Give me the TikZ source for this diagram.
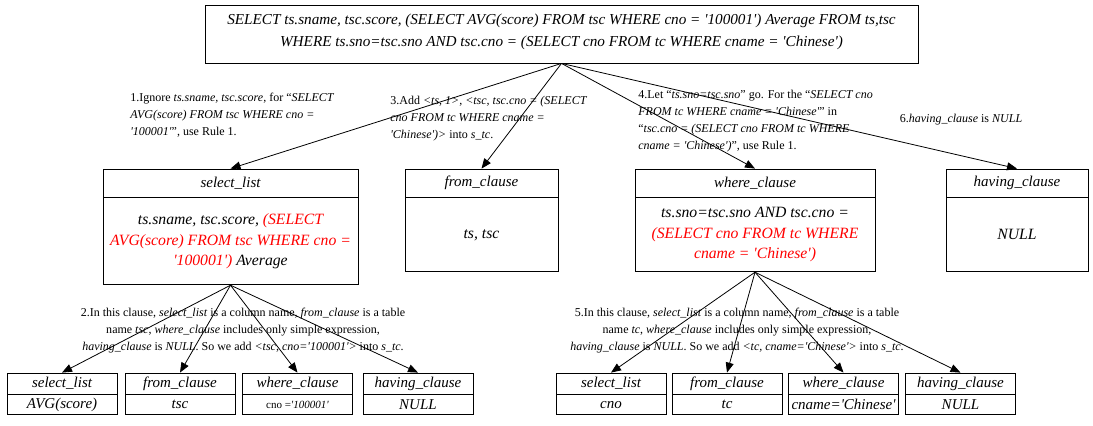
\documentclass[tikz,border=0pt]{standalone}
\usepackage{fontspec}
\setmainfont{Liberation Serif}[Ligatures=TeXOff]
\usetikzlibrary{positioning, arrows.meta}
\tikzset{
    ->, % every edge is directed
    >={Triangle[length=10bp,width=8bp]}, % graphviz-like heads
    x=1bp, y=-1bp, % work in pixels, y downwards
    every path/.style={line width=0.8bp},
    query/.style={draw, inner sep=0pt, align=center, font=\fontsize{15.2bp}{22bp}\selectfont\itshape},
    head/.style={draw, inner sep=0pt, minimum height=28bp, font=\fontsize{15bp}{18bp}\selectfont\itshape},
    body/.style={draw, inner sep=0pt, align=center, font=\fontsize{15.7bp}{20.5bp}\selectfont\itshape},
    smallhead/.style={head, minimum height=21bp, minimum width=110bp},
    smallbody/.style={body, minimum height=20bp, minimum width=110bp, font=\fontsize{15bp}{18bp}\selectfont\itshape},
    note/.style={inner sep=0pt, font=\fontsize{12bp}{17bp}\selectfont},
}

\begin{document}
\begin{tikzpicture}
    \useasboundingbox (0,0) rectangle (1093,425);

    % the whole query
    \node[query, minimum width=713bp, minimum height=58bp, text depth=8bp] (top) at (561.5,34)
        {SELECT ts.sname, tsc.score, (SELECT AVG(score) FROM tsc WHERE cno = '100001') Average FROM ts,tsc\\
         WHERE ts.sno=tsc.sno AND tsc.cno = (SELECT cno FROM tc WHERE cname = 'Chinese')};

    % first level clauses
    \node[head, minimum width=255bp] (sl) at (230.5,183) {select\_list};
    \node[body, minimum width=255bp, minimum height=87bp, below=0pt of sl] (slb)
        {ts.sname, tsc.score, \textcolor{red}{(SELECT}\\
         \textcolor{red}{AVG(score) FROM tsc WHERE cno =}\\
         \textcolor{red}{'100001')} Average};
    \node[head, minimum width=153bp] (fc) at (481.5,183) {from\_clause};
    \node[body, minimum width=153bp, minimum height=74bp, below=0pt of fc] (fcb) {ts, tsc};
    \node[head, minimum width=240bp] (wc) at (755,183) {where\_clause};
    \node[body, minimum width=240bp, minimum height=74bp, below=0pt of wc] (wcb)
        {ts.sno=tsc.sno AND tsc.cno =\\
         \textcolor{red}{(SELECT cno FROM tc WHERE}\\
         \textcolor{red}{cname = 'Chinese')}};
    \node[head, minimum width=142bp] (hc) at (1017,183) {having\_clause};
    \node[body, minimum width=142bp, minimum height=74bp, below=0pt of hc] (hcb) {NULL};

    % subquery of select_list
    \node[smallhead] (sl1) at (62,383.5) {select\_list};
    \node[smallbody, below=0pt of sl1] (sl1b) {AVG(score)};
    \node[smallhead] (fc1) at (180,383.5) {from\_clause};
    \node[smallbody, below=0pt of fc1] (fc1b) {tsc};
    \node[smallhead] (wc1) at (297.5,383.5) {where\_clause};
    \node[smallbody, below=0pt of wc1] (wc1b) {\fontsize{11bp}{13bp}\selectfont\upshape cno =\textit{'100001'}};
    \node[smallhead] (hc1) at (418,383.5) {having\_clause};
    \node[smallbody, below=0pt of hc1] (hc1b) {NULL};

    % subquery of where_clause
    \node[smallhead] (sl2) at (611,383.5) {select\_list};
    \node[smallbody, below=0pt of sl2] (sl2b) {cno};
    \node[smallhead] (fc2) at (727,383.5) {from\_clause};
    \node[smallbody, below=0pt of fc2] (fc2b) {tc};
    \node[smallhead] (wc2) at (843.5,383.5) {where\_clause};
    \node[smallbody, below=0pt of wc2] (wc2b) {cname='Chinese'};
    \node[smallhead] (hc2) at (960.5,383.5) {having\_clause};
    \node[smallbody, below=0pt of hc2] (hc2b) {NULL};

    \path
        (top.south) edge (sl.north)
                    edge (fc.north)
                    edge (wc.north)
                    edge (hc.north)
        (slb.south) edge (sl1.north)
                    edge (fc1.north)
                    edge (wc1.north)
                    edge (hc1.north)
        (wcb.south) edge (sl2.north)
                    edge (fc2.north)
                    edge (wc2.north)
                    edge (hc2.north);

    % the steps
    \node[note, align=left, anchor=north west] (n1) at (130,93)
        {1.Ignore \textit{ts.sname, tsc.score}, for “\textit{SELECT}\\
         \textit{AVG(score) FROM tsc WHERE cno =}\\
         \textit{'100001'}”, use Rule 1.};
    \node[note, align=left, anchor=north west] (n3) at (390,96)
        {3.Add \textit{<ts, 1>}, \textit{<tsc, tsc.cno = (SELECT}\\
         \textit{cno FROM tc WHERE cname =}\\
         \textit{'Chinese')>} into \textit{s\_tc}.};
    \node[note, align=left, anchor=north west] (n4) at (638,90)
        {4.Let “\textit{ts.sno=tsc.sno}” go. For the “\textit{SELECT cno}\\
         \textit{FROM tc WHERE cname = 'Chinese'}” in\\
         “\textit{tsc.cno = (SELECT cno FROM tc WHERE}\\
         \textit{cname = 'Chinese')}”, use Rule 1.};
    \node[note] (n6) at (961,120) {6.\textit{having\_clause} is \textit{NULL}};
    \node[note, align=center, anchor=north] (n2) at (243,308)
        {2.In this clause, \textit{select\_list} is a column name, \textit{from\_clause} is a table\\
         name \textit{tsc}, \textit{where\_clause} includes only simple expression,\\
         \textit{having\_clause} is \textit{NULL}. So we add \textit{<tsc, cno='100001'>} into \textit{s\_tc}.};
    \node[note, align=center, anchor=north] (n5) at (737,308)
        {5.In this clause, \textit{select\_list} is a column name, \textit{from\_clause} is a table\\
         name \textit{tc}, \textit{where\_clause} includes only simple expression,\\
         \textit{having\_clause} is \textit{NULL}. So we add \textit{<tc, cname='Chinese'>} into \textit{s\_tc}.};
\end{tikzpicture}
\end{document}
